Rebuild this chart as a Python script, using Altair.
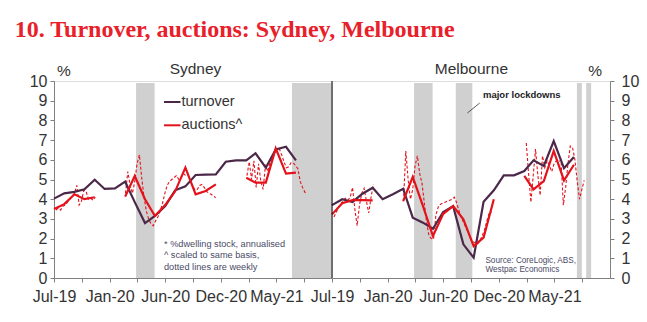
import altair as alt
import pandas as pd

# ---------------- text ----------------
TITLE = "10. Turnover, auctions: Sydney, Melbourne"
PANELS = ["Sydney", "Melbourne"]
UNIT = "%"
LEGEND_LABELS = ["turnover", "auctions^"]
FOOTNOTE = ["* %dwelling stock, annualised", "^ scaled to same basis,", "dotted lines are weekly"]
SOURCE = ["Source: CoreLogic, ABS,", "Westpac Economics"]
LOCKDOWN_LABEL = "major lockdowns"

# ---------------- axes ----------------
X_ORIGIN = "2019-07-01"
X_SPAN_DAYS = 840
TICK_DAYS = [0, 84, 168, 252, 336, 420, 504, 588, 672, 756]
TICK_LABELS = ["Jul-19", "", "Jan-20", "", "Jun-20", "", "Dec-20", "", "May-21", ""]
Y_TICKS = [0, 1, 2, 3, 4, 5, 6, 7, 8, 9, 10]

# ---------------- Sydney ----------------
syd_turnover_start = "2019-07-01"
syd_turnover = [4.03, 4.30, 4.37, 4.50, 4.99, 4.52, 4.55, 4.89, 3.85, 2.79, 3.15, 3.65,
                4.45, 4.65, 5.23, 5.25, 5.26, 5.90, 5.97, 5.97, 6.33, 5.60, 6.53, 6.66, 5.97]

syd_auc_m_starts = ["2019-07-01", "2020-02-01", "2021-02-01"]
syd_auc_m1 = [3.50, 3.75, 4.25, 4.00, 4.10]
syd_auc_m2 = [4.13, 5.18, 4.00, 3.15, 3.70, 4.40, 5.60, 4.25, 4.42, 4.75]
syd_auc_m3 = [5.09, 4.84, 4.84, 6.58, 5.30, 5.35]

syd_auc_w_starts = ["2019-07-07", "2020-02-02", "2021-02-03"]
syd_auc_w1 = [3.45, 3.55, 3.45, 3.65, 3.70, 3.85, 4.00, 4.15, 4.30, 4.70, 3.70, 3.90,
              4.45, 4.40, 4.00, 4.05, 3.95, 4.10]
syd_auc_w2 = [4.30, 5.40, 4.70, 4.30, 4.90, 5.80, 6.25, 5.10, 4.10, 3.40, 3.00, 2.75,
              2.65, 2.90, 3.10, 3.40, 3.80, 4.30, 4.70, 4.90, 5.00, 5.10, 5.20, 5.00,
              5.10, 5.30, 5.20, 5.25, 4.90, 4.70, 4.45, 4.50, 4.70, 4.75, 4.60, 4.40,
              4.30, 4.25, 4.15, 4.08]
syd_auc_w3 = [5.20, 5.90, 5.00, 5.95, 4.60, 5.80, 4.90, 4.50, 5.75, 5.40, 5.90, 6.10,
              6.35, 6.45, 6.55, 6.25, 5.90, 5.60, 5.65, 5.85, 5.85, 5.70, 5.55, 4.90,
              4.60, 4.35, 4.30]

syd_lock_start = ["2020-03-05", "2021-06-19"]
syd_lock_end = ["2020-04-30", "2021-10-17"]

# ---------------- Melbourne ----------------
mel_turnover_start = "2019-07-01"
mel_turnover = [3.70, 4.00, 3.86, 4.28, 4.58, 4.00, 4.25, 4.53, 3.06, 2.81, 2.50, 3.35,
                3.65, 1.71, 1.03, 3.87, 4.45, 5.21, 5.21, 5.43, 5.97, 5.69, 6.95, 5.57, 6.14]

mel_auc_m_starts = ["2019-07-01", "2020-02-01", "2021-02-01"]
mel_auc_m1 = [3.23, 3.80, 3.95, 3.95, 3.94]
mel_auc_m2 = [3.90, 5.13, 3.65, 2.13, 3.26, 3.65, 2.98, 1.62, 2.05, 4.00]
mel_auc_m3 = [5.18, 4.50, 4.92, 6.45, 4.95, 5.75]

mel_auc_w_starts = ["2019-07-07", "2020-02-02", "2021-02-07"]
mel_auc_w1 = [3.10, 3.35, 3.60, 3.75, 3.95, 4.05, 3.95, 4.10, 4.60, 3.50, 2.65, 3.70,
              4.30, 4.55, 3.90, 3.30, 4.10, 4.75]
mel_auc_w2 = [3.90, 6.45, 5.00, 4.00, 4.50, 5.70, 6.20, 5.30, 4.80, 3.80, 2.80, 2.15,
              2.00, 1.97, 3.20, 3.60, 3.75, 3.80, 3.85, 3.90, 3.95, 4.00, 4.10, 3.80,
              3.40, 3.06, 2.80, 2.55, 2.30, 2.00, 1.85, 1.78, 1.72, 1.90, 2.15, 2.45,
              2.90, 3.30, 3.35]
mel_auc_w3 = [6.85, 5.30, 3.85, 5.20, 6.55, 5.20, 4.20, 6.20, 5.60, 5.95, 5.70, 5.40,
              5.80, 5.95, 5.90, 6.00, 3.70, 4.60, 5.80, 6.70, 6.60, 6.00, 4.90, 4.00,
              4.50, 4.95]

mel_lock_start = ["2020-03-05", "2020-07-09", "2021-07-10", "2021-08-07"]
mel_lock_end = ["2020-04-30", "2020-08-28", "2021-07-25", "2021-08-22"]

# ---------------- styling ----------------
PURPLE = "#4b2748"
RED = "#e3121b"
GREY = "#d0d0d0"
TITLE_RED = "#e8202a"
TEXT = "#333333"
NOTE = "#4a4a66"
AXIS_GREY = "#808080"
W, H = 278, 197
FONT = "Liberation Sans"

X0 = pd.Timestamp(X_ORIGIN)


def days(dates):
    return (pd.DatetimeIndex(dates) - X0).days


def series_frame(starts, segments, freq):
    frames = []
    for i, (s, vals) in enumerate(zip(starts, segments)):
        d = pd.date_range(s, periods=len(vals), freq=freq)
        frames.append(pd.DataFrame({"day": days(d), "v": vals, "seg": i}))
    return pd.concat(frames, ignore_index=True)


def lock_frame(starts, ends):
    return pd.DataFrame({"day": days(starts), "day2": days(ends)})


label_expr = "''"
for d, l in reversed(list(zip(TICK_DAYS, TICK_LABELS))):
    if l:
        label_expr = f"datum.value == {d} ? '{l}' : ({label_expr})"

x_axis = alt.Axis(values=TICK_DAYS, labelExpr=label_expr, title=None, grid=False,
                  tickSize=4, labelPadding=6, labelFontSize=16, labelColor=TEXT,
                  domainColor=AXIS_GREY, tickColor=AXIS_GREY, labelFlush=False,
                  labelOverlap=False)
x_scale = alt.Scale(domain=[0, X_SPAN_DAYS], nice=False, zero=False)
y_scale = alt.Scale(domain=[0, 10], nice=False, zero=True)


def y_axis(orient):
    return alt.Axis(values=Y_TICKS, orient=orient, title=None, grid=False, tickSize=4,
                    labelPadding=3 if orient == "left" else 7, labelFontSize=16,
                    labelColor=TEXT, domainColor=AXIS_GREY, tickColor=AXIS_GREY)


def one(**kw):
    return pd.DataFrame({k: [v] for k, v in kw.items()})


def text_layer(txt, x, y, size, color=TEXT, align="left", baseline="middle", weight="normal",
               font=FONT, line_height=None):
    kw = dict(align=align, baseline=baseline, fontSize=size, color=color, font=font,
              fontWeight=weight)
    if line_height is not None:
        kw["lineBreak"] = "\n"
        kw["lineHeight"] = line_height
    return alt.Chart(one(t=txt)).mark_text(**kw).encode(
        text="t:N", x=alt.value(x), y=alt.value(y))


def panel(turn_start, turnover, m_starts, m_segs, w_starts, w_segs, lock_s, lock_e, orient):
    xe = alt.X("day:Q", scale=x_scale, axis=x_axis)
    ye = alt.Y("v:Q", scale=y_scale, axis=y_axis(orient))
    bars = alt.Chart(lock_frame(lock_s, lock_e)).mark_rect(color=GREY).encode(
        x=xe, x2="day2:Q", y=alt.value(2), y2=alt.value(H))
    turn = alt.Chart(series_frame([turn_start], [turnover], "MS")).mark_line(
        color=PURPLE, strokeWidth=2.2).encode(x=xe, y=ye, detail="seg:N")
    auc_m = alt.Chart(series_frame(m_starts, m_segs, "MS")).mark_line(
        color=RED, strokeWidth=2.2).encode(x=xe, y=ye, detail="seg:N")
    auc_w = alt.Chart(series_frame(w_starts, w_segs, "7D")).mark_line(
        color=RED, strokeWidth=1.1, strokeDash=[3, 2]).encode(x=xe, y=ye, detail="seg:N")
    return [bars, auc_w, turn, auc_m]


syd_layers = panel(syd_turnover_start, syd_turnover, syd_auc_m_starts,
                   [syd_auc_m1, syd_auc_m2, syd_auc_m3], syd_auc_w_starts,
                   [syd_auc_w1, syd_auc_w2, syd_auc_w3], syd_lock_start, syd_lock_end, "left")

syd_layers += [
    text_layer(TITLE, -39.3, -44, 24, color=TITLE_RED, baseline="alphabetic",
               weight="bold", font="Liberation Serif"),
    text_layer(PANELS[0], 141.5, -12, 15.5, align="center"),
    text_layer(UNIT, 10, -10, 15.5, align="center"),
    alt.Chart(one(k=LEGEND_LABELS[0])).mark_rule(color=PURPLE, strokeWidth=2).encode(
        x=alt.value(110), x2=alt.value(126.5), y=alt.value(21)),
    alt.Chart(one(k=LEGEND_LABELS[1])).mark_rule(color=RED, strokeWidth=2).encode(
        x=alt.value(110), x2=alt.value(126.5), y=alt.value(44.3)),
    text_layer(LEGEND_LABELS[0], 127.5, 21, 14.5),
    text_layer(LEGEND_LABELS[1], 127.5, 44.3, 14.5),
    text_layer("\n".join(FOOTNOTE), 110, 158.5, 9.2, color=NOTE, baseline="top",
               line_height=11.8),
]

mel_layers = panel(mel_turnover_start, mel_turnover, mel_auc_m_starts,
                   [mel_auc_m1, mel_auc_m2, mel_auc_m3], mel_auc_w_starts,
                   [mel_auc_w1, mel_auc_w2, mel_auc_w3], mel_lock_start, mel_lock_end, "right")

mel_layers += [
    alt.Chart(one(k="edge")).mark_rule(color="#000000", strokeWidth=1).encode(
        x=alt.value(0), y=alt.value(0), y2=alt.value(H)),
    text_layer(PANELS[1], 139.4, -12, 15.5, align="center"),
    text_layer(UNIT, 263.2, -10, 15.5, align="center"),
    text_layer(LOCKDOWN_LABEL, 151, 13.7, 9.5, color="#222222", weight="bold"),
    alt.Chart(one(k="leader")).mark_rule(color="#333333", strokeWidth=0.8).encode(
        x=alt.value(147.7), y=alt.value(22), x2=alt.value(135.4), y2=alt.value(32)),
    text_layer("\n".join(SOURCE), 153.4, 176, 8.2, color=NOTE, baseline="top",
               line_height=8.8),
]

syd = alt.layer(*syd_layers).properties(width=W, height=H)
mel = alt.layer(*mel_layers).properties(width=W, height=H)

chart = alt.hconcat(syd, mel, spacing=0, bounds="flush").properties(
    padding={"left": 14, "top": 17, "right": 0, "bottom": 0},
    background="white",
).configure_view(stroke=None).configure(font=FONT)

chart.save("out.html", embed_options={"renderer": "svg", "actions": False})
